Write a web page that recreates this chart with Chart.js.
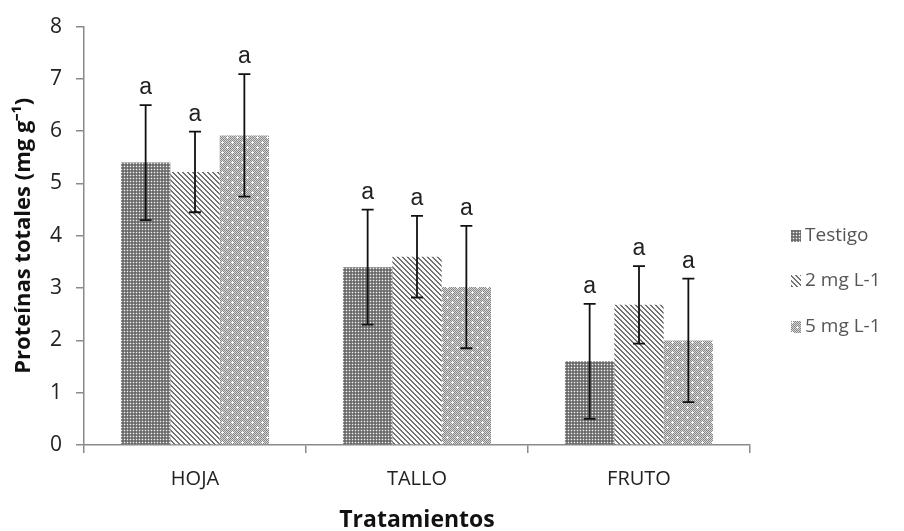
<!DOCTYPE html>
<html>
<head>
<meta charset="utf-8">
<script src="https://cdn.jsdelivr.net/npm/chart.js@4.4.1/dist/chart.umd.min.js"></script>
<style>
  html, body { margin: 0; padding: 0; background: #fff; }
  #chart { display: block; }
</style>
</head>
<body>
<canvas id="chart" width="904" height="531"></canvas>
<script>
const categories = ["HOJA", "TALLO", "FRUTO"];
const seriesNames = ["Testigo", "2 mg L-1", "5 mg L-1"];

const testigo = [5.4, 3.4, 1.6];
const dosis2 = [5.22, 3.6, 2.68];
const dosis5 = [5.92, 3.02, 2.0];

const errTestigo = [1.1, 1.1, 1.1];
const errDosis2 = [0.77, 0.78, 0.74];
const errDosis5 = [1.17, 1.17, 1.18];

const lettersTestigo = ["a", "a", "a"];
const lettersDosis2 = ["a", "a", "a"];
const lettersDosis5 = ["a", "a", "a"];

const yMin = 0;
const yMax = 8;

const canvas = document.getElementById("chart");
const ctx = canvas.getContext("2d");

// tiny tiles for the Excel-like fill patterns
function makePattern(size, paintPixel) {
  const tile = document.createElement("canvas");
  tile.width = size;
  tile.height = size;
  const g = tile.getContext("2d");
  for (let y = 0; y < size; y += 1) {
    for (let x = 0; x < size; x += 1) {
      g.fillStyle = paintPixel(x, y);
      g.fillRect(x, y, 1, 1);
    }
  }
  return ctx.createPattern(tile, "repeat");
}

const dotsDark = makePattern(3, (x, y) => {
  if (x === 1 && y === 1) return "#f2f2f2";
  if (x === 1 || y === 1) return "#8a8a8a";
  return "#6a6a6a";
});

const stripes = makePattern(5, (x, y) => ((((x - y) % 5) + 5) % 5 < 2 ? "#727272" : "#fafafa"));

const plusAt = (x, y, cx, cy) =>
  (x === cx && Math.abs(y - cy) <= 1) || (y === cy && Math.abs(x - cx) <= 1);
const dotsLight = makePattern(10, (x, y) => {
  if (plusAt(x, y, 2, 2) || plusAt(x, y, 7, 7)) return "#ffffff";
  return (x + y) % 2 === 0 ? "#878787" : "#d6d6d6";
});

const fills = [dotsDark, stripes, dotsLight];
const values = [testigo, dosis2, dosis5];
const errors = [errTestigo, errDosis2, errDosis5];
const letters = [lettersTestigo, lettersDosis2, lettersDosis5];

const errorBars = {
  id: "errorBars",
  afterDatasetsDraw(chart) {
    const y = chart.scales.y;
    const c = chart.ctx;
    c.save();
    c.strokeStyle = "#111";
    c.lineWidth = 1.8;
    c.fillStyle = "#222";
    c.font = "23px 'Liberation Sans', Arial, sans-serif";
    c.textAlign = "center";
    c.textBaseline = "alphabetic";
    chart.data.datasets.forEach((ds, i) => {
      chart.getDatasetMeta(i).data.forEach((bar, j) => {
        const v = values[i][j];
        const e = errors[i][j];
        const top = y.getPixelForValue(v + e);
        const bottom = y.getPixelForValue(v - e);
        c.beginPath();
        c.moveTo(bar.x, top);
        c.lineTo(bar.x, bottom);
        c.moveTo(bar.x - 6, top);
        c.lineTo(bar.x + 6, top);
        c.moveTo(bar.x - 6, bottom);
        c.lineTo(bar.x + 6, bottom);
        c.stroke();
        c.fillText(letters[i][j], bar.x, top - 11);
      });
    });
    c.restore();
  }
};

const sideLegend = {
  id: "sideLegend",
  afterDraw(chart) {
    const c = chart.ctx;
    const rows = [236, 281, 327];
    c.save();
    c.font = "19px 'Open Sans', sans-serif";
    c.textAlign = "left";
    c.textBaseline = "middle";
    seriesNames.forEach((name, i) => {
      c.fillStyle = fills[i];
      c.fillRect(791, rows[i] - 6, 10, 12);
      c.fillStyle = "#555";
      c.fillText(name, 805, rows[i]);
    });
    c.restore();
  }
};

new Chart(canvas, {
  type: "bar",
  data: {
    labels: categories,
    datasets: seriesNames.map((name, i) => ({
      label: name,
      data: values[i],
      backgroundColor: fills[i],
      borderWidth: 0,
      barPercentage: 1,
      categoryPercentage: 0.667
    }))
  },
  options: {
    responsive: false,
    animation: false,
    devicePixelRatio: 1,
    layout: { padding: { top: 21, right: 154, left: 0, bottom: 0 } },
    plugins: {
      legend: { display: false },
      tooltip: { enabled: false }
    },
    scales: {
      x: {
        offset: true,
        afterFit(scale) { scale.height = 86; },
        grid: { offset: true, drawOnChartArea: false, tickLength: 8, color: "#8a8a8a", lineWidth: 1.5 },
        border: { color: "#8a8a8a", width: 1.5 },
        ticks: { color: "#222", padding: 14, font: { family: "'Open Sans', sans-serif", size: 20 } },
        title: {
          display: true,
          text: "Tratamientos",
          color: "#111",
          padding: { top: 0, bottom: -3 },
          font: { family: "'Open Sans', sans-serif", size: 23, weight: "bold" }
        }
      },
      y: {
        min: yMin,
        max: yMax,
        afterFit(scale) { scale.width = 84; },
        grid: { drawOnChartArea: false, tickLength: 8, color: "#8a8a8a", lineWidth: 1.5 },
        border: { color: "#8a8a8a", width: 1.5 },
        ticks: { stepSize: 1, color: "#222", padding: 14, font: { family: "'Open Sans', sans-serif", size: 21 } },
        title: {
          display: true,
          text: "Proteínas totales (mg g⁻¹)",
          color: "#111",
          padding: { top: 11, bottom: 0 },
          font: { family: "'Open Sans', sans-serif", size: 22, weight: "bold" }
        }
      }
    }
  },
  plugins: [errorBars, sideLegend]
});
</script>
</body>
</html>
